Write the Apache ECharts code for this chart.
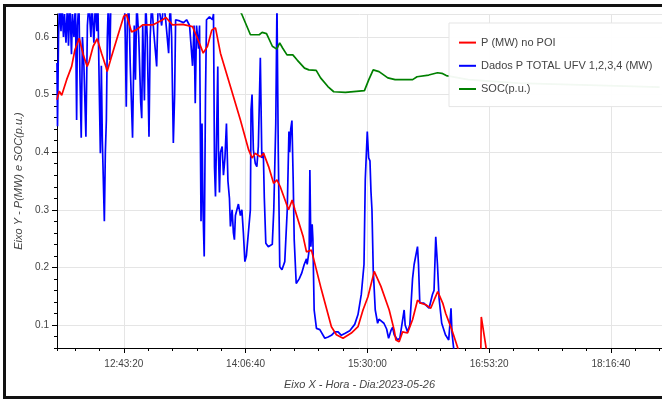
<!DOCTYPE html>
<html>
<head>
<meta charset="utf-8">
<script src="https://cdn.jsdelivr.net/npm/echarts@6/dist/echarts.min.js"></script>
<style>
    html, body { margin: 0; padding: 0; background: #fff; overflow: hidden; width: 662px; height: 400px; }
    #main { position: absolute; left: 0; top: 0; width: 662px; height: 400px; }
    .edge { position: absolute; background: #111; pointer-events: none; }
    #edge-top { left: 3px; top: 4px; width: 659px; height: 3px; }
    #edge-left { left: 3px; top: 4px; width: 3px; height: 395px; }
    #edge-bottom { left: 3px; top: 396px; width: 659px; height: 3px; }
</style>
</head>
<body>
<div id="main"></div>
<div class="edge" id="edge-top"></div>
<div class="edge" id="edge-left"></div>
<div class="edge" id="edge-bottom"></div>
<script>
var xStart = '11:57:38';
var xEnd = '18:51:37';
var yMin = 0.06, yMax = 0.64;

var redTime = ['11:57:38','11:59:12','12:00:51','12:04:15','12:07:40','12:09:55','12:12:51','12:15:35','12:18:18','12:19:40',
    '12:22:24','12:25:07','12:28:07','12:31:03','12:31:57','12:34:57','12:39:27','12:43:20','12:45:10','12:48:35',
    '12:51:43','12:56:17','13:03:07','13:09:56','13:12:11','13:16:45','13:23:34','13:30:23','13:34:58','13:37:41',
    '13:40:37','13:43:33','13:46:05','13:49:29','13:56:18','14:03:08','14:08:47','14:11:06','14:13:21','14:16:46',
    '14:19:01','14:22:26','14:25:50','14:28:09','14:30:24','14:36:04','14:38:35','14:40:26','14:46:06','14:48:21',
    '14:51:45','14:58:35','15:05:24','15:08:48','15:13:22','15:19:02','15:23:36','15:27:01','15:30:25','15:34:43',
    '15:39:17','15:44:57','15:48:22','15:49:31','15:51:46','15:54:05','15:57:30','16:00:55','16:04:19','16:06:34',
    '16:09:59','16:13:23','16:15:38','16:18:10','16:21:34','16:23:37','16:27:55','16:32:00','16:33:51','16:47:29',
    '16:47:58','16:51:35','16:56:21'];
var redValue = [0.491,0.506,0.499,0.526,0.549,0.578,0.598,0.569,0.549,0.558,
    0.584,0.597,0.572,0.549,0.540,0.566,0.604,0.636,0.639,0.609,
    0.612,0.621,0.621,0.630,0.634,0.621,0.622,0.618,0.590,0.572,
    0.584,0.612,0.616,0.572,0.514,0.456,0.404,0.390,0.398,0.392,
    0.398,0.375,0.346,0.352,0.340,0.300,0.317,0.300,0.253,0.227,
    0.230,0.161,0.097,0.083,0.077,0.086,0.097,0.126,0.149,0.193,
    0.167,0.126,0.091,0.074,0.071,0.088,0.086,0.109,0.143,0.138,
    0.135,0.129,0.143,0.158,0.138,0.120,0.091,0.059,0.030,0.030,
    0.114,0.055,0.000];

var blueTime = ['11:57:38','11:57:59','11:58:40','11:59:21','12:00:22','12:01:03','12:02:04','12:02:45','12:03:47','12:04:48',
    '12:05:29','12:06:30','12:07:32','12:08:13','12:09:14','12:10:15','12:11:04','12:11:37','12:12:39','12:13:20',
    '12:14:13','12:15:02','12:16:03','12:17:25','12:18:26','12:19:28','12:20:50','12:21:31','12:22:52','12:23:54',
    '12:24:55','12:25:36','12:26:37','12:27:18','12:27:59','12:28:40','12:29:21','12:30:02','12:30:43','12:31:24',
    '12:32:05','12:32:46','12:33:47','12:34:28','12:38:34','12:43:40','12:44:21','12:45:02','12:45:43','12:46:45',
    '12:47:46','12:49:20','12:50:30','12:51:19','12:52:12','12:53:34','12:54:56','12:55:37','12:56:17','12:57:27',
    '12:58:20','12:59:22','13:00:35','13:01:24','13:02:26','13:03:48','13:05:50','13:06:52','13:09:15','13:10:37',
    '13:11:59','13:14:01','13:15:03','13:16:04','13:17:14','13:18:07','13:18:48','13:21:32','13:24:15','13:26:18',
    '13:28:21','13:30:23','13:31:25','13:32:14','13:33:07','13:34:29','13:35:10','13:36:11','13:36:52','13:37:33',
    '13:38:22','13:39:15','13:39:56','13:41:59','13:44:02','13:44:43','13:45:24','13:46:05','13:46:46','13:47:39',
    '13:48:07','13:48:48','13:49:29','13:50:39','13:51:32','13:52:33','13:53:35','13:54:36','13:55:38','13:56:18',
    '13:57:28','13:58:21','13:59:02','13:59:43','14:00:44','14:01:46','14:03:08','14:04:09','14:05:10','14:06:12',
    '14:07:13','14:08:35','14:09:57','14:10:25','14:11:06','14:12:00','14:13:21','14:14:23','14:15:24','14:16:46',
    '14:17:47','14:18:49','14:19:30','14:20:31','14:22:13','14:23:35','14:24:57','14:25:58','14:27:20','14:28:09',
    '14:29:03','14:30:04','14:31:34','14:33:29','14:35:11','14:36:20','14:36:53','14:37:34','14:38:23','14:39:16',
    '14:39:57','14:41:19','14:43:22','14:45:04','14:46:47','14:48:21','14:48:49','14:50:11','14:50:40','14:51:21',
    '14:52:14','14:52:43','14:53:36','14:55:10','14:57:29','14:58:35','15:00:54','15:03:09','15:05:24','15:07:43',
    '15:09:58','15:12:13','15:14:32','15:17:57','15:21:21','15:23:36','15:25:51','15:27:42','15:28:35','15:29:57',
    '15:30:54','15:31:47','15:32:28','15:33:09','15:34:02','15:35:24','15:37:02','15:37:56','15:39:17','15:41:20',
    '15:43:11','15:44:32','15:46:07','15:47:16','15:48:22','15:50:41','15:52:15','15:53:37','15:55:11','15:55:52',
    '15:57:30','15:59:04','16:00:55','16:02:00','16:03:10','16:04:19','16:05:00','16:05:53','16:08:37','16:09:59',
    '16:12:14','16:14:33','16:15:38','16:16:48','16:17:58','16:19:03','16:20:53','16:23:25','16:25:40','16:26:21',
    '16:27:14','16:27:55','16:29:05','16:30:26','18:51:00'];
var blueValue = [0.555,0.445,0.600,0.660,0.610,0.660,0.600,0.640,0.590,0.660,
    0.585,0.660,0.570,0.640,0.600,0.660,0.456,0.620,0.660,0.530,
    0.425,0.600,0.550,0.427,0.620,0.660,0.600,0.660,0.590,0.660,
    0.610,0.660,0.500,0.398,0.550,0.420,0.350,0.280,0.400,0.455,
    0.600,0.660,0.560,0.660,0.700,0.680,0.600,0.479,0.620,0.660,
    0.550,0.425,0.620,0.526,0.660,0.600,0.486,0.459,0.620,0.490,
    0.660,0.600,0.427,0.600,0.660,0.610,0.549,0.660,0.620,0.660,
    0.630,0.572,0.660,0.600,0.416,0.500,0.630,0.628,0.625,0.630,
    0.620,0.550,0.620,0.485,0.620,0.580,0.620,0.280,0.450,0.300,
    0.219,0.500,0.630,0.635,0.630,0.640,0.375,0.323,0.420,0.549,
    0.400,0.330,0.400,0.410,0.360,0.390,0.450,0.350,0.320,0.271,
    0.300,0.260,0.248,0.290,0.300,0.310,0.290,0.300,0.260,0.210,
    0.220,0.220,0.300,0.474,0.500,0.404,0.380,0.375,0.410,0.564,
    0.390,0.400,0.320,0.242,0.236,0.234,0.240,0.300,0.450,0.660,
    0.400,0.201,0.196,0.210,0.300,0.436,0.400,0.440,0.455,0.350,
    0.248,0.172,0.180,0.190,0.205,0.215,0.205,0.230,0.369,0.236,
    0.275,0.250,0.126,0.094,0.092,0.090,0.077,0.079,0.082,0.088,
    0.088,0.082,0.085,0.090,0.101,0.118,0.153,0.205,0.353,0.436,
    0.390,0.385,0.332,0.300,0.196,0.126,0.103,0.110,0.107,0.103,
    0.093,0.077,0.090,0.096,0.083,0.074,0.077,0.100,0.126,0.100,
    0.088,0.100,0.180,0.205,0.207,0.236,0.205,0.138,0.138,0.135,
    0.129,0.153,0.160,0.253,0.205,0.147,0.103,0.083,0.074,0.097,
    0.129,0.086,0.059,0.020,0.000];

var socTime = ['14:01','14:04','14:10','14:16','14:18','14:21','14:25','14:28','14:30','14:32',
    '14:35','14:39','14:42','14:47','14:50','14:55','14:58','15:03','15:07','15:15',
    '15:28','15:31','15:34','15:38','15:44','15:49','16:01','16:04','16:12','16:18',
    '16:21','16:24','16:39','17:13','18:08','18:50'];
var socValue = [0.655,0.640,0.604,0.604,0.608,0.606,0.584,0.579,0.590,0.581,
    0.569,0.569,0.560,0.546,0.543,0.542,0.529,0.514,0.505,0.504,
    0.507,0.526,0.543,0.540,0.529,0.526,0.526,0.531,0.534,0.538,
    0.537,0.533,0.526,0.520,0.516,0.513];

var day = Date.UTC(2023, 4, 26) / 1000;

function sec(hms) {
    var p = hms.split(':');
    return day + (+p[0]) * 3600 + (+p[1]) * 60 + (+(p[2] || 0));
}
function pair(times, vals) {
    return times.map(function (t, i) { return [sec(t), vals[i]]; });
}
function clock(v) {
    var d = new Date(v * 1000);
    return [d.getUTCHours(), d.getUTCMinutes(), d.getUTCSeconds()].map(function (n) {
        return (n < 10 ? '0' : '') + n;
    }).join(':');
}

var font = 'Liberation Sans, Arial, Helvetica, sans-serif';
var gridBox = { left: 57, right: -2, top: 14, bottom: 52, show: false };

var option = {
    animation: false,
    grid: [gridBox, gridBox],
    legend: {
        orient: 'vertical',
        left: 449,
        top: 23,
        data: ['P (MW) no POI', 'Dados P TOTAL UFV 1,2,3,4 (MW)', 'SOC(p.u.)'],
        itemWidth: 17,
        itemHeight: 14,
        itemGap: 12,
        padding: [14, 20, 12, 9],
        selectedMode: false,
        itemStyle: { opacity: 0 },
        backgroundColor: 'rgba(255,255,255,0.95)',
        borderColor: '#e5e5e5',
        borderWidth: 1,
        textStyle: { color: '#444', fontSize: 11, fontFamily: font }
    },
    xAxis: [
        {
            type: 'value',
            gridIndex: 0,
            min: sec(xStart),
            max: sec(xEnd),
            minInterval: 5000,
            maxInterval: 5000,
            name: 'Eixo X - Hora - Dia:2023-05-26',
            nameLocation: 'middle',
            nameGap: 31,
            nameTextStyle: { color: '#444', fontSize: 11, fontStyle: 'italic', fontFamily: font },
            axisLine: { onZero: false, lineStyle: { color: '#000', width: 1 } },
            axisTick: { length: 5, lineStyle: { color: '#000' } },
            axisLabel: {
                formatter: clock, showMinLabel: false, showMaxLabel: false,
                margin: 11, color: '#444', fontSize: 10, fontFamily: font
            },
            splitLine: { show: true, lineStyle: { color: '#e5e5e5' } }
        },
        {
            // minor ticks
            type: 'value',
            gridIndex: 1,
            min: sec(xStart),
            max: sec(xEnd),
            minInterval: 1000,
            maxInterval: 1000,
            axisLine: { show: false, onZero: false },
            axisTick: { show: true, length: 3, lineStyle: { color: '#000' } },
            axisLabel: { show: false },
            splitLine: { show: false }
        }
    ],
    yAxis: [
        {
            type: 'value',
            gridIndex: 0,
            min: yMin,
            max: yMax,
            minInterval: 0.1,
            maxInterval: 0.1,
            name: 'Eixo Y - P(MW) e SOC(p.u.)',
            nameLocation: 'middle',
            nameGap: 31,
            nameTextStyle: { color: '#444', fontSize: 11, fontStyle: 'italic', fontFamily: font },
            axisLine: { show: true, onZero: false, lineStyle: { color: '#000', width: 1 } },
            axisTick: { show: true, length: 5, lineStyle: { color: '#000' } },
            axisLabel: {
                showMinLabel: false, showMaxLabel: false,
                margin: 8, color: '#444', fontSize: 10, fontFamily: font
            },
            splitLine: { show: true, lineStyle: { color: '#e5e5e5' } }
        },
        {
            type: 'value',
            gridIndex: 1,
            min: yMin,
            max: yMax,
            interval: 0.02,
            axisLine: { show: false, onZero: false },
            axisTick: { show: true, length: 3, lineStyle: { color: '#000' } },
            axisLabel: { show: false },
            splitLine: { show: false }
        }
    ],
    series: [
        {
            name: 'Dados P TOTAL UFV 1,2,3,4 (MW)',
            type: 'line',
            data: pair(blueTime, blueValue),
            symbol: 'none',
            color: '#0000ff',
            lineStyle: { width: 1.7 }
        },
        {
            name: 'P (MW) no POI',
            type: 'line',
            data: pair(redTime, redValue),
            symbol: 'none',
            color: '#ff0000',
            lineStyle: { width: 1.7 }
        },
        {
            name: 'SOC(p.u.)',
            type: 'line',
            data: pair(socTime, socValue),
            symbol: 'none',
            color: '#008000',
            lineStyle: { width: 1.7 }
        }
    ]
};

var myChart = echarts.init(document.getElementById('main'));
myChart.setOption(option);
</script>
</body>
</html>
